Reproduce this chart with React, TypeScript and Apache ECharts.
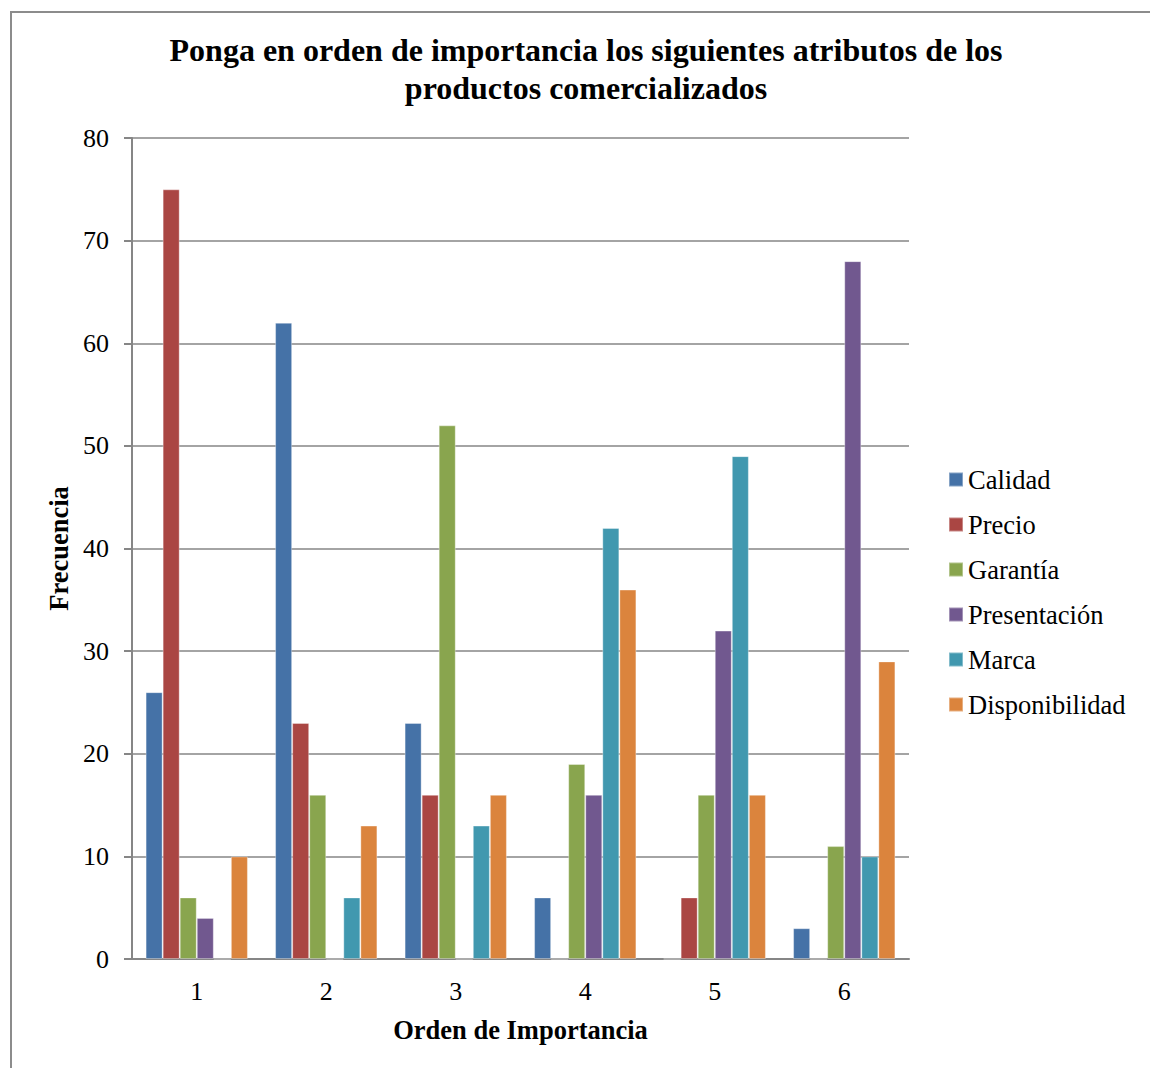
import React, { useEffect, useRef } from "react";
import * as echarts from "echarts";

const categories = ["1", "2", "3", "4", "5", "6"];
const seriesNames = ["Calidad", "Precio", "Garantía", "Presentación", "Marca", "Disponibilidad"];
const calidad = [26, 62, 23, 6, 0, 3];
const precio = [75, 23, 16, 0, 6, 0];
const garantia = [6, 16, 52, 19, 16, 11];
const presentacion = [4, 0, 0, 16, 32, 68];
const marca = [0, 6, 13, 42, 49, 10];
const disponibilidad = [10, 13, 16, 36, 16, 29];
const yTicks = { min: 0, max: 80, interval: 10 };
const colors = ["#4572A7", "#AA4643", "#89A54E", "#71588F", "#4198AF", "#DB843D"];

const FONT = "'Liberation Serif', 'Times New Roman', serif";

export default function App() {
  const ref = useRef<HTMLDivElement>(null);
  useEffect(() => {
    document.body.style.margin = "0";
    if (!ref.current) return;
    const chart = echarts.init(ref.current, null, { renderer: "svg" });
    const values = [calidad, precio, garantia, presentacion, marca, disponibilidad];
    chart.setOption({
      animation: false,
      backgroundColor: "#ffffff",
      textStyle: { fontFamily: FONT },
      color: colors,
      graphic: [
        {
          type: "rect",
          shape: { x: 11, y: 12, width: 1300, height: 1200 },
          style: { fill: "none", stroke: "#8c8c8c", lineWidth: 2 },
          silent: true,
        },
        {
          type: "text",
          x: 586,
          y: 69,
          style: {
            text: "Ponga en orden de importancia los siguientes atributos de los\nproductos comercializados",
            font: `bold 32px ${FONT}`,
            fill: "#000",
            align: "center",
            verticalAlign: "middle",
            lineHeight: 38,
          },
        },
      ],
      grid: { left: 132, right: 241, top: 138, bottom: 109, containLabel: false },
      legend: {
        orient: "vertical",
        left: 943,
        top: 461,
        itemWidth: 14,
        itemHeight: 14,
        itemGap: 18,
        icon: "rect",
        textStyle: { fontFamily: FONT, fontSize: 26.5, color: "#000", lineHeight: 26 },
        data: seriesNames,
      },
      xAxis: {
        type: "category",
        data: categories,
        name: "Orden de Importancia",
        nameLocation: "middle",
        nameGap: 57,
        nameTextStyle: { fontFamily: FONT, fontSize: 26.5, fontWeight: "bold", color: "#000" },
        axisLine: { show: true, lineStyle: { color: "#868686", width: 2 } },
        axisTick: { show: false },
        axisLabel: { fontFamily: FONT, fontSize: 26, color: "#000", margin: 19 },
        splitLine: { show: false },
      },
      yAxis: {
        type: "value",
        min: yTicks.min,
        max: yTicks.max,
        interval: yTicks.interval,
        name: "Frecuencia",
        nameLocation: "middle",
        nameGap: 57,
        nameRotate: 90,
        nameTextStyle: { fontFamily: FONT, fontSize: 26.5, fontWeight: "bold", color: "#000" },
        axisLine: { show: true, lineStyle: { color: "#868686", width: 2 } },
        axisTick: { show: true, length: 8, lineStyle: { color: "#868686", width: 2 } },
        axisLabel: { fontFamily: FONT, fontSize: 26, color: "#000", margin: 23 },
        splitLine: { show: true, lineStyle: { color: "#868686", width: 1.5 } },
      },
      series: seriesNames.map((name, i) => ({
        name,
        type: "bar",
        data: values[i],
        barGap: "0%",
        barCategoryGap: "21%",
        itemStyle: { color: colors[i], borderColor: "rgba(255,255,255,0.35)", borderWidth: 1 },
      })),
    });
    return () => chart.dispose();
  }, []);
  return <div ref={ref} style={{ width: 1150, height: 1068 }} />;
}
